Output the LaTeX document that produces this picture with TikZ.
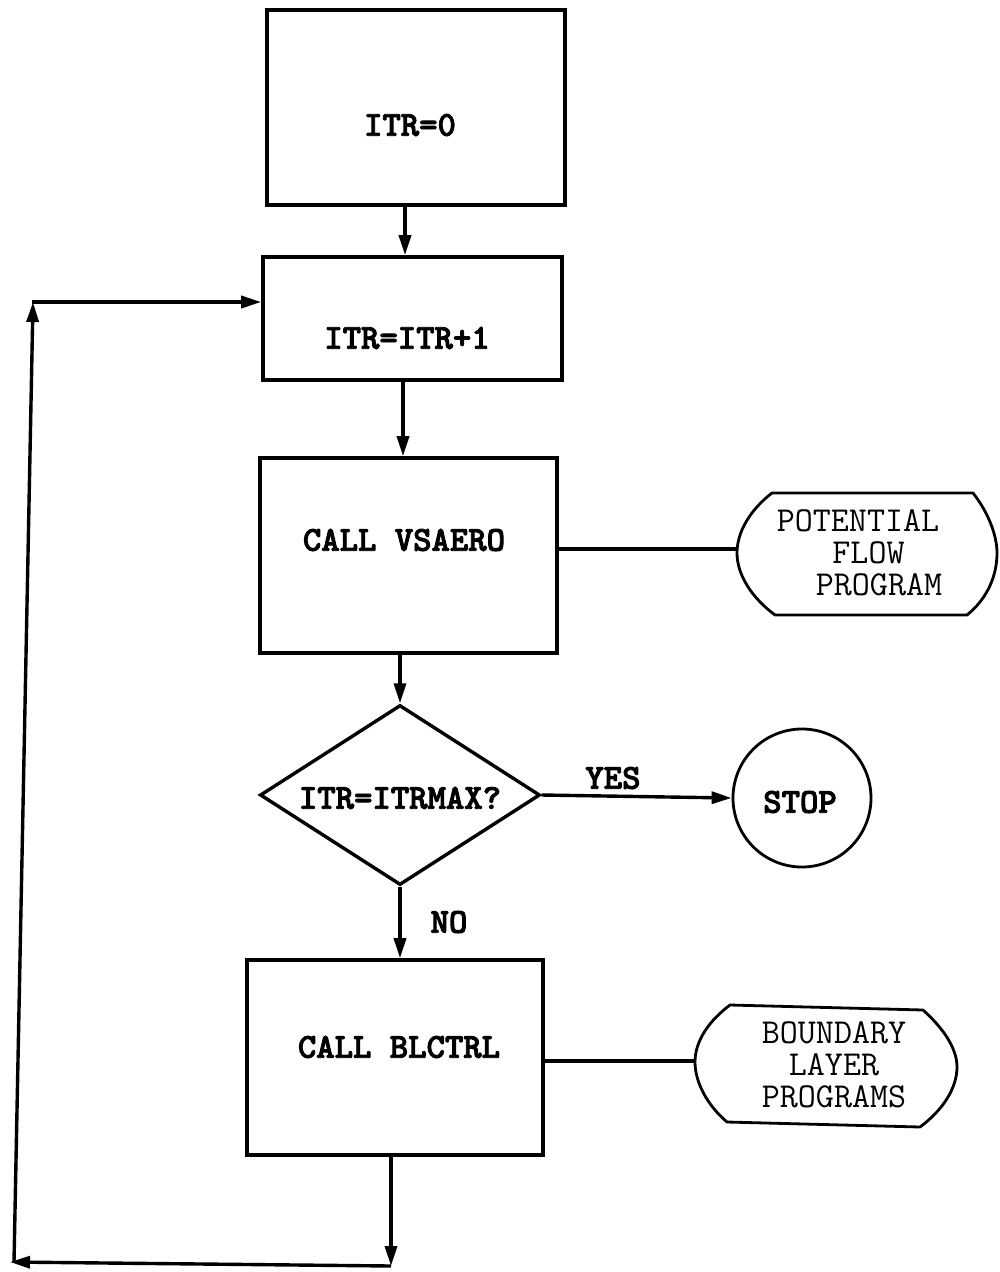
\documentclass[tikz,border=0pt]{standalone}
\usepackage{fontspec}
\newfontfamily\ttbold[FakeBold=2.5]{lmmonolt10-bold.otf}
\usetikzlibrary{arrows.meta,shapes.geometric}
\begin{document}
\begin{tikzpicture}[x=1pt,y=-1pt,
  frame/.style={draw,line width=3.6pt,rectangle,inner sep=0pt},
  txtb/.style={font=\ttbold\fontsize{35}{36}\selectfont,inner sep=0pt},
  txtr/.style={font=\ttfamily\fontsize{35}{32}\selectfont,align=center,inner sep=0pt},
  termline/.style={draw,line width=2.8pt,line join=round},
  conn/.style={line width=3.4pt},
  arr/.style={conn,-{Triangle[length=20pt,width=12pt]}}]
\useasboundingbox (0,0) rectangle (999,1272);

% boxes
\node[frame,minimum width=298pt,minimum height=195pt] (b1) at (416,107.5) {};
\node[txtb] (b1t) at (410,125) {ITR=0};
\node[frame,minimum width=299pt,minimum height=123pt] (b2) at (412.5,318.5) {};
\node[txtb] (b2t) at (407,338) {ITR=ITR+1};
\node[frame,minimum width=297pt,minimum height=195pt] (b3) at (408.5,555.5) {};
\node[txtb] (b3t) at (404,540) {CALL VSAERO};
\node[frame,minimum width=296pt,minimum height=195pt] (b4) at (395,1057.5) {};
\node[txtb] (b4t) at (399,1047) {CALL BLCTRL};

% decision
\node[draw,diamond,line width=3.4pt,inner sep=0pt,aspect=1.556,minimum width=280pt,minimum height=180pt] (d) at (400,795) {};
\node[txtb] (dt) at (400,798) {ITR=ITRMAX?};

% stop
\node[circle,draw,line width=2.8pt,minimum size=138pt,inner sep=0pt] (stop) at (802,798) {};
\node[txtb] (stopt) at (800,802) {STOP};

% terminator 1
\draw[termline] (772,493) -- (973,493) .. controls (988,512) and (997,535) .. (997,553)
  .. controls (997,575) and (988,598) .. (967,615) -- (775,615)
  .. controls (752,598) and (737,575) .. (737,553)
  .. controls (737,532) and (750,510) .. (772,493) -- cycle;
\coordinate (t1w) at (737,549);
\node[txtr] (t1) at (858,553) {POTENTIAL\\ \hspace*{0.6em}FLOW\\ \hspace*{1.2em}PROGRAM};

% terminator 2
\draw[termline] (730,1005) -- (923,1010) .. controls (943,1028) and (957,1048) .. (957,1067)
  .. controls (957,1088) and (943,1110) .. (920,1127) -- (727,1122)
  .. controls (707,1105) and (695,1082) .. (695,1062)
  .. controls (695,1040) and (710,1020) .. (730,1005) -- cycle;
\coordinate (t2w) at (695,1061);
\node[txtr] (t2) at (834,1065) {BOUNDARY\\ LAYER\\ PROGRAMS};

% connectors
\draw[arr] ([xshift=-11pt]b1.south) -- ([xshift=-11pt]b1.south |- b2.north);
\draw[arr] ([xshift=-9.5pt]b2.south) -- ([xshift=-9.5pt]b2.south |- b3.north);
\draw[arr] (d.north |- b3.south) -- (d.north);
\draw[conn] (t1w -| b3.east) -- (t1w);
\draw[arr] (d.east) -- (stop.west);
\node[txtb] (yes) at (613,778) {YES};
\draw[arr] (d.south) -- (d.south |- b4.north);
\node[txtb] (no) at (449,922) {NO};
\draw[conn] (t2w -| b4.east) -- (t2w);

\coordinate (cbr) at (391,1266);
\coordinate (cbl) at (10,1262);
\coordinate (cvl) at (14,1262);
\coordinate (ctl) at (33,302);
\draw[arr] (b4.south -| cbr) -- (cbr);
\draw[arr] (cbr) -- (cbl);
\draw[arr] (cvl) -- (ctl);
\draw[arr] ([xshift=-1.5pt]ctl) -- (ctl -| b2.west);
\end{tikzpicture}
\end{document}
